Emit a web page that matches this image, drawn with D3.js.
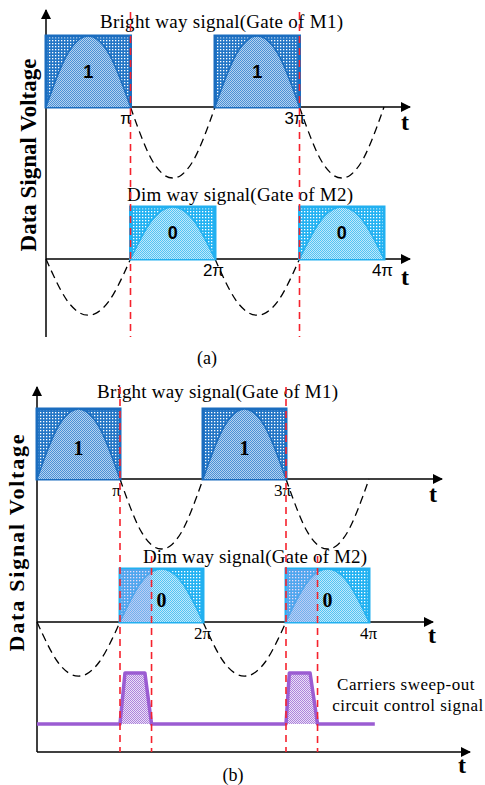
<!DOCTYPE html>
<html>
<head>
<meta charset="utf-8">
<script src="https://cdn.jsdelivr.net/npm/d3@7"></script>
<style>
	body { margin: 0; background: #fff; }
	text { font-family: 'Liberation Serif', 'Times New Roman', serif; }
</style>
</head>
<body>
<div id="chart"></div>
<script>
// all time values are in units of pi
const piTicks = [1, 2, 3, 4];
const piLabels = ['π', '2π', '3π', '4π'];
const brightPulses = [[0, 1], [2, 3]];
const dimPulses = [[1, 2], [3, 4]];
const brightBits = ['1', '1'];
const dimBits = ['0', '0'];
// shape of one half wave (fraction of half period, level)
const halfWave = [[0, 0], [0.1, 0.33], [0.25, 0.74], [0.4, 0.96], [0.5, 1], [0.6, 0.96], [0.75, 0.74], [0.9, 0.33], [1, 0]];
const brightNegStarts = [1, 3];
const dimNegStarts = [0, 2];
// carriers sweep-out control signal (panel b)
const sweepT = [0, 1, 1.06, 1.3, 1.38, 3, 3.04, 3.29, 3.38, 4.07];
const sweepV = [0, 0, 1, 1, 0, 0, 1, 1, 0, 0];
const sweepPulses = [[1, 1.38], [3, 3.38]];

const width = 485, height = 785;
const svg = d3.select('#chart').append('svg')
	.attr('width', width)
	.attr('height', height);

// defs: arrow + fill patterns
let defs = svg.append('defs');
defs.append('marker')
	.attr('id', 'arrow')
	.attr('viewBox', '0 0 10 10')
	.attr('refX', 9).attr('refY', 5)
	.attr('markerWidth', 11).attr('markerHeight', 10)
	.attr('markerUnits', 'userSpaceOnUse')
	.attr('orient', 'auto')
	.append('path').attr('d', 'M0,0L10,5L0,10Z').attr('fill', '#000');

function dotPattern(id, bg) {
	let p = defs.append('pattern').attr('id', id)
		.attr('patternUnits', 'userSpaceOnUse').attr('width', 3).attr('height', 3);
	p.append('rect').attr('width', 3).attr('height', 3).attr('fill', bg);
	p.append('rect').attr('x', 1).attr('y', 1).attr('width', 1.3).attr('height', 1.3).attr('fill', '#fff');
}
function checkPattern(id, c1, c2) {
	let p = defs.append('pattern').attr('id', id)
		.attr('patternUnits', 'userSpaceOnUse').attr('width', 2).attr('height', 2);
	p.append('rect').attr('width', 2).attr('height', 2).attr('fill', c2);
	p.append('rect').attr('width', 1).attr('height', 1).attr('fill', c1);
	p.append('rect').attr('x', 1).attr('y', 1).attr('width', 1).attr('height', 1).attr('fill', c1);
}
dotPattern('bDots', '#2376c6');
checkPattern('bCheck', '#4a90d6', '#b3d2f0');
dotPattern('dDots', '#22b2f2');
checkPattern('dCheck', '#52c3f4', '#c0e8fa');
checkPattern('pCheck', '#ad84dc', '#ebdff7');

const bright = { rect: 'url(#bDots)', arc: 'url(#bCheck)', stroke: '#1b6dbf' };
const dim = { rect: 'url(#dDots)', arc: 'url(#dCheck)', stroke: '#22b0f0' };

// layout of the two panels
const panels = [
	{
		xr: [46, 384], yAxis: [10, 337], sans: true,
		bright: { y: [107, 36], arrowX: 410, t: [405, 130], depth: 1.0, dx: -5, title: [100, 28, 243] },
		dim: { y: [259, 207], arrowX: 410, t: [405, 285], depth: 1.08, dx: -2, title: [127, 201, 226] },
		red: [[1, 12], [3, 12]], redBottom: 337,
		ylabel: [28, 155, 23, 0], caption: ['(a)', 207, 364]
	},
	{
		xr: [37, 369], yAxis: [387, 752], sans: false,
		bright: { y: [479, 409], arrowX: 442, t: [433, 502], depth: 1.0, dx: -4, title: [97, 398, 241] },
		dim: { y: [622, 569], arrowX: 433, t: [432, 643], depth: 1.02, dx: -1, title: [143, 563, 224] },
		ctrl: { y: [724, 673], bottomArrowX: 470, t: [462, 773] },
		red: [[1, 387], [3, 387], [1.38, 556], [3.38, 556]], redBottom: 752,
		ylabel: [16, 542, 22, 1.8], caption: ['(b)', 233, 781]
	}
];

function drawChannel(g, x, y, c, pulses, bits, negStarts, style, sans, tickVals, titleText) {
	let waveLine = (a, b, amp) => d3.line()
		.x(d => x(a + d[0] * (b - a)))
		.y(d => y(d[1] * amp))
		.curve(d3.curveNatural);

	// negative half waves (dashed)
	negStarts.forEach(s => {
		g.append('path')
			.attr('d', waveLine(s, s + 1, -c.depth)(halfWave))
			.attr('fill', 'none')
			.attr('stroke', '#000')
			.attr('stroke-width', 1.3)
			.attr('stroke-dasharray', '8,5');
	});

	// baseline axis with arrow
	g.append('line')
		.attr('x1', x(0)).attr('x2', c.arrowX)
		.attr('y1', y(0)).attr('y2', y(0))
		.attr('stroke', '#000').attr('stroke-width', 1.5)
		.attr('marker-end', 'url(#arrow)');

	pulses.forEach(([a, b], i) => {
		g.append('rect')
			.attr('x', x(a)).attr('y', y(1))
			.attr('width', x(b) - x(a)).attr('height', y(0) - y(1))
			.attr('fill', style.rect)
			.attr('stroke', style.stroke).attr('stroke-width', 3);
		g.append('path')
			.attr('d', waveLine(a, b, 1)(halfWave))
			.attr('fill', style.arc)
			.attr('stroke', style.stroke).attr('stroke-width', 1.5);
		g.append('text')
			.attr('x', x((a + b) / 2)).attr('y', (y(0) + y(1)) / 2 + (sans ? 0 : 4))
			.attr('text-anchor', 'middle').attr('dominant-baseline', 'central')
			.style('font-family', sans ? "'Liberation Sans', Arial, sans-serif" : null)
			.attr('font-weight', 'bold').attr('font-size', sans ? 18 : 20)
			.text(bits[i]);
	});

	// pi tick labels
	let ax = g.append('g')
		.attr('transform', 'translate(0,' + y(0) + ')')
		.call(d3.axisBottom(x).tickValues(tickVals).tickSize(0).tickPadding(5)
			.tickFormat(v => piLabels[piTicks.indexOf(v)]));
	ax.select('.domain').remove();
	ax.selectAll('text')
		.attr('dx', c.dx)
		.attr('fill', '#000')
		.attr('font-size', 17)
		.style('font-family', sans ? "'Liberation Sans', Arial, sans-serif" : "'Liberation Serif', serif");

	g.append('text')
		.attr('x', c.t[0]).attr('y', c.t[1])
		.attr('text-anchor', 'middle')
		.attr('font-weight', 'bold').attr('font-size', 24)
		.text('t');

	g.append('text')
		.attr('x', c.title[0]).attr('y', c.title[1])
		.attr('font-size', 19)
		.attr('textLength', c.title[2])
		.attr('lengthAdjust', 'spacing')
		.text(titleText);
}

panels.forEach(p => {
	let g = svg.append('g');
	let x = d3.scaleLinear().domain([0, 4]).range(p.xr);
	let yB = d3.scaleLinear().domain([0, 1]).range(p.bright.y);
	let yD = d3.scaleLinear().domain([0, 1]).range(p.dim.y);

	// vertical axis
	g.append('line')
		.attr('x1', x(0)).attr('x2', x(0))
		.attr('y1', p.yAxis[1]).attr('y2', p.yAxis[0])
		.attr('stroke', '#000').attr('stroke-width', 1.5)
		.attr('marker-end', 'url(#arrow)');

	drawChannel(g, x, yB, p.bright, brightPulses, brightBits, brightNegStarts, bright, p.sans, [1, 3], 'Bright way signal(Gate of M1)');
	drawChannel(g, x, yD, p.dim, dimPulses, dimBits, dimNegStarts, dim, p.sans, [2, 4], 'Dim way signal(Gate of M2)');

	if (p.ctrl) {
		let yC = d3.scaleLinear().domain([0, 1]).range(p.ctrl.y);
		let pts = sweepT.map((t, i) => ({ t: t, v: sweepV[i] }));

		// purple tint over the dim pulses during sweep-out
		sweepPulses.forEach(([a, b]) => {
			g.append('rect')
				.attr('x', x(a)).attr('y', yD(1))
				.attr('width', x(b) - x(a)).attr('height', yD(0) - yD(1))
				.attr('fill', '#b98ae6').attr('opacity', 0.3);
			g.append('path')
				.datum(pts.filter(d => d.t >= a && d.t <= b))
				.attr('d', d3.area().x(d => x(d.t)).y0(yC(0)).y1(d => yC(d.v)))
				.attr('fill', 'url(#pCheck)');
		});

		g.append('path')
			.datum(pts)
			.attr('d', d3.line().x(d => x(d.t)).y(d => yC(d.v)))
			.attr('fill', 'none')
			.attr('stroke', '#9b5cd2').attr('stroke-width', 3.5)
			.attr('stroke-linejoin', 'round');

		// bottom time axis
		g.append('line')
			.attr('x1', x(0)).attr('x2', p.ctrl.bottomArrowX)
			.attr('y1', p.yAxis[1]).attr('y2', p.yAxis[1])
			.attr('stroke', '#000').attr('stroke-width', 1.5)
			.attr('marker-end', 'url(#arrow)');
		g.append('text')
			.attr('x', p.ctrl.t[0]).attr('y', p.ctrl.t[1])
			.attr('text-anchor', 'middle')
			.attr('font-weight', 'bold').attr('font-size', 24)
			.text('t');

		let lbl = g.append('text').attr('font-size', 17).attr('text-anchor', 'middle').attr('letter-spacing', 0.5);
		lbl.append('tspan').attr('x', 406).attr('y', 690).text('Carriers sweep-out');
		lbl.append('tspan').attr('x', 408).attr('y', 711).text('circuit control signal');
	}

	// red dashed marker lines
	p.red.forEach(r => {
		g.append('line')
			.attr('x1', x(r[0])).attr('x2', x(r[0]))
			.attr('y1', r[1]).attr('y2', p.redBottom)
			.attr('stroke', '#f5222d').attr('stroke-width', 1.6)
			.attr('stroke-dasharray', '7,5');
	});

	// y label
	g.append('text')
		.attr('transform', 'translate(' + p.ylabel[0] + ',' + p.ylabel[1] + ') rotate(-90)')
		.attr('text-anchor', 'middle').attr('dominant-baseline', 'central')
		.attr('font-weight', 'bold').attr('font-size', p.ylabel[2])
		.attr('letter-spacing', p.ylabel[3])
		.text('Data Signal Voltage');

	g.append('text')
		.attr('x', p.caption[1]).attr('y', p.caption[2])
		.attr('text-anchor', 'middle').attr('font-size', 18)
		.text(p.caption[0]);
});
</script>
</body>
</html>
